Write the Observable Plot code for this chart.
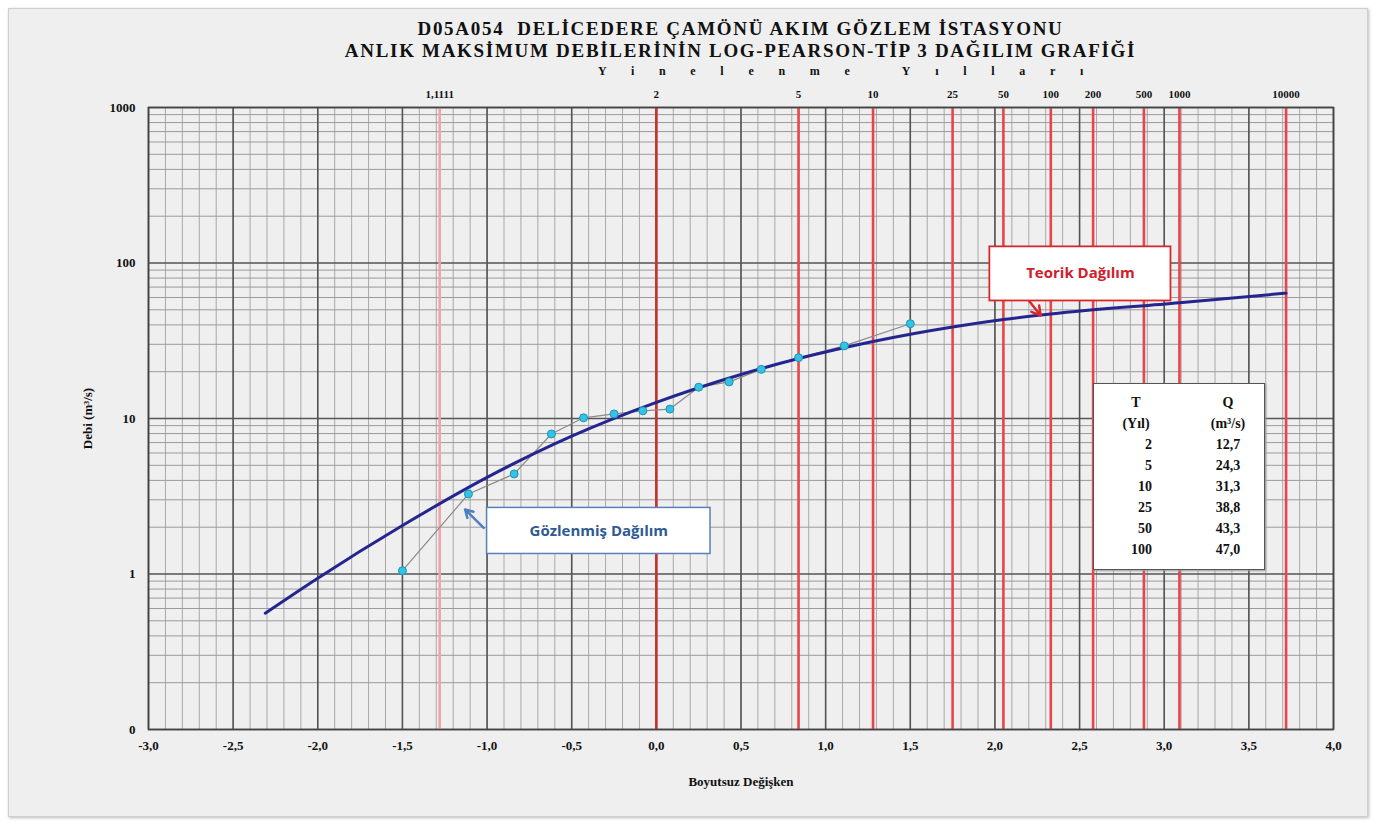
<!DOCTYPE html>
<html>
<head>
<meta charset="utf-8">
<script src="https://cdn.jsdelivr.net/npm/d3@7"></script>
<script src="https://cdn.jsdelivr.net/npm/@observablehq/plot@0.6"></script>
<style>
  html, body { margin: 0; padding: 0; background: #ffffff; }
  #wrap { position: relative; width: 1386px; height: 827px; overflow: hidden; }
  #panel { position: absolute; left: 8px; top: 8px; width: 1358px; height: 807px;
           background: #efefef; border: 1px solid #cfcfcf; box-shadow: 1px 1px 3px #bbb; }
  #chart { position: absolute; left: 0; top: 0; }
  .title { position: absolute; left: 148px; width: 1185px; text-align: center;
           font-family: "Liberation Serif", "DejaVu Serif", serif; font-weight: bold;
           font-size: 19px; color: #111; letter-spacing: 1.7px; white-space: pre; }
  #sub { position: absolute; left: 598px; top: 64px; font-family: "Liberation Serif", serif;
         font-weight: bold; font-size: 12px; letter-spacing: 24.7px; color: #111; white-space: pre; }
  #tbl { position: absolute; left: 1093px; top: 383px; width: 170px; height: 185px;
         background: #fff; border: 1px solid #555; box-shadow: 1px 1px 2px #999;
         font-family: "Liberation Serif", serif; font-weight: bold; font-size: 14px; color: #111; }
  #tbl table { border-collapse: collapse; margin: 8px 0 0 0; width: 170px; table-layout: fixed; }
  #tbl td { padding: 0; height: 21px; line-height: 21px; white-space: nowrap; }
  #tbl td.c1 { width: 58px; text-align: right; }
  #tbl td.h1 { width: 58px; text-align: center; padding-left: 26px; box-sizing: border-box; }
  #tbl td.c2 { text-align: center; padding-left: 40px; }
</style>
</head>
<body>
<div id="wrap">
  <div id="panel"></div>
  <div id="chart"></div>
  <div class="title" style="top:18px">D05A054  DELİCEDERE ÇAMÖNÜ AKIM GÖZLEM İSTASYONU</div>
  <div class="title" style="top:40px">ANLIK MAKSİMUM DEBİLERİNİN LOG-PEARSON-TİP 3 DAĞILIM GRAFİĞİ</div>
  <div id="sub">Yinelenme Yılları</div>
  <div id="tbl"></div>
</div>
<script>
// ---- data ----
// return-period lines (standard normal variate) and their labels
const returnZ = [-1.28, 0, 0.84, 1.28, 1.75, 2.05, 2.33, 2.58, 2.88, 3.09, 3.72];
const returnLabels = ["1,1111", "2", "5", "10", "25", "50", "100", "200", "500", "1000", "10000"];

// observed series (Gözlenmiş Dağılım)
const obsZ = [-1.50, -1.11, -0.84, -0.62, -0.43, -0.25, -0.08, 0.08, 0.25, 0.43, 0.62, 0.84, 1.11, 1.50];
const obsQ = [1.05, 3.27, 4.40, 7.95, 10.1, 10.7, 11.2, 11.5, 15.9, 17.2, 20.7, 24.6, 29.3, 40.7];

// theoretical curve (Teorik Dağılım)
const curveZ = [-2.31, -2.0, -1.5, -1.0, -0.5, 0, 0.5, 0.84, 1.28, 1.75, 2.05, 2.33, 3.09, 3.72];
const curveQ = [0.56, 0.94, 2.05, 4.18, 7.7, 12.7, 19.2, 24.3, 31.3, 38.8, 43.3, 47.0, 55.5, 64];

// table
const tableT = [2, 5, 10, 25, 50, 100];
const tableQ = [12.7, 24.3, 31.3, 38.8, 43.3, 47.0];

// axis ticks
const xTicks = [-3, -2.5, -2, -1.5, -1, -0.5, 0, 0.5, 1, 1.5, 2, 2.5, 3, 3.5, 4];
const yTicks = [0.1, 1, 10, 100, 1000];

// ---- build ----
const obs = obsZ.map((z, i) => ({z, q: obsQ[i]}));
const curve = curveZ.map((z, i) => ({z, q: curveQ[i]}));
const minorX = d3.range(-30, 41).map(i => i / 10);
const minorY = [0.1, 1, 10, 100].flatMap(d => d3.range(2, 10).map(k => d * k));
const labelOf = new Map(returnZ.map((z, i) => [z, returnLabels[i]]));
const redColor = z => z === 0 ? "#c8302c" : (z < 0 ? "#f0a4a4" : "#e8454a");
const fmt = d => (d < 0 ? "-" : "") + Math.abs(d).toFixed(1).replace(".", ",");

const callouts = {
  obs: {x1: -1.0, x2: 0.32, y1: 1.345, y2: 2.66, tx: -0.34, ty: 1.89, ax1: -1.02, ay1: 1.98, ax2: -1.13, ay2: 2.6},
  theo: {x1: 1.97, x2: 3.04, y1: 57, y2: 127, tx: 2.505, ty: 86, ax1: 2.16, ay1: 65, ax2: 2.27, ay2: 46}
};

const plot = Plot.plot({
  width: 1386,
  height: 827,
  marginLeft: 148,
  marginRight: 53,
  marginTop: 107,
  marginBottom: 98,
  x: {domain: [-3, 4]},
  y: {type: "log", domain: [0.1, 1000]},
  style: {fontFamily: "'Liberation Serif', serif", fontWeight: "bold", fontSize: "12px", background: "transparent", color: "#111"},
  marks: [
    Plot.ruleX(minorX, {stroke: "#a9a9a9", strokeWidth: 1}),
    Plot.ruleY(minorY, {stroke: "#9a9a9a", strokeWidth: 1}),
    Plot.ruleX(xTicks, {stroke: "#555", strokeWidth: 1.6}),
    Plot.ruleY(yTicks, {stroke: "#555", strokeWidth: 1.6}),
    Plot.ruleX(returnZ, {stroke: d => redColor(d), strokeWidth: 2.6}),
    Plot.frame({stroke: "#444", strokeWidth: 1.6}),
    Plot.line(obs, {x: "z", y: "q", stroke: "#8a8a8a", strokeWidth: 1.2}),
    Plot.line(curve, {x: "z", y: "q", stroke: "#25258f", strokeWidth: 3, curve: "monotone-x"}),
    Plot.dot(obs, {x: "z", y: "q", r: 4, fill: "#35c3e3", stroke: "#1b94b8", strokeWidth: 1}),
    // callout: observed
    Plot.arrow([callouts.obs], {x1: "ax1", y1: "ay1", x2: "ax2", y2: "ay2", stroke: "#4f7fc0", strokeWidth: 2.5, headLength: 8}),
    Plot.rect([callouts.obs], {x1: "x1", x2: "x2", y1: "y1", y2: "y2", fill: "#fff", stroke: "#5b80b8", strokeWidth: 1.5}),
    Plot.text([callouts.obs], {x: "tx", y: "ty", text: () => "Gözlenmiş Dağılım", fill: "#2f5a92", fontSize: 15, fontWeight: "bold", fontFamily: "'Open Sans', sans-serif"}),
    // callout: theoretical
    Plot.arrow([callouts.theo], {x1: "ax1", y1: "ay1", x2: "ax2", y2: "ay2", stroke: "#d8282e", strokeWidth: 2.5, headLength: 8}),
    Plot.rect([callouts.theo], {x1: "x1", x2: "x2", y1: "y1", y2: "y2", fill: "#fff", stroke: "#d8282e", strokeWidth: 1.8}),
    Plot.text([callouts.theo], {x: "tx", y: "ty", text: () => "Teorik Dağılım", fill: "#d0202a", fontSize: 15, fontWeight: "bold", fontFamily: "'Open Sans', sans-serif"}),
    // axes
    Plot.axisX({anchor: "bottom", ticks: xTicks, tickFormat: fmt, tickSize: 0, tickPadding: 11,
      label: "Boyutsuz Değişken", labelAnchor: "center", labelArrow: "none", labelOffset: 56, fontSize: 13}),
    Plot.axisX({anchor: "top", ticks: returnZ, tickFormat: d => labelOf.get(d), tickSize: 0, tickPadding: 10, label: null, fontSize: 11}),
    Plot.axisY({ticks: yTicks, tickFormat: d => d < 1 ? "0" : String(d), tickSize: 0, tickPadding: 13,
      label: "Debi (m³/s)", labelAnchor: "center", labelArrow: "none", labelOffset: 66, fontSize: 13})
  ]
});
document.getElementById("chart").appendChild(plot);

// table
const tbl = document.getElementById("tbl");
const rows = [["T", "Q"], ["(Yıl)", "(m³/s)"]]
  .concat(tableT.map((t, i) => [String(t), tableQ[i].toFixed(1).replace(".", ",")]));
tbl.innerHTML = "<table>" + rows.map((r, i) =>
  `<tr><td class="${i < 2 ? 'h1' : 'c1'}">${r[0]}</td><td class="c2">${r[1]}</td></tr>`
).join("") + "</table>";
</script>
</body>
</html>
